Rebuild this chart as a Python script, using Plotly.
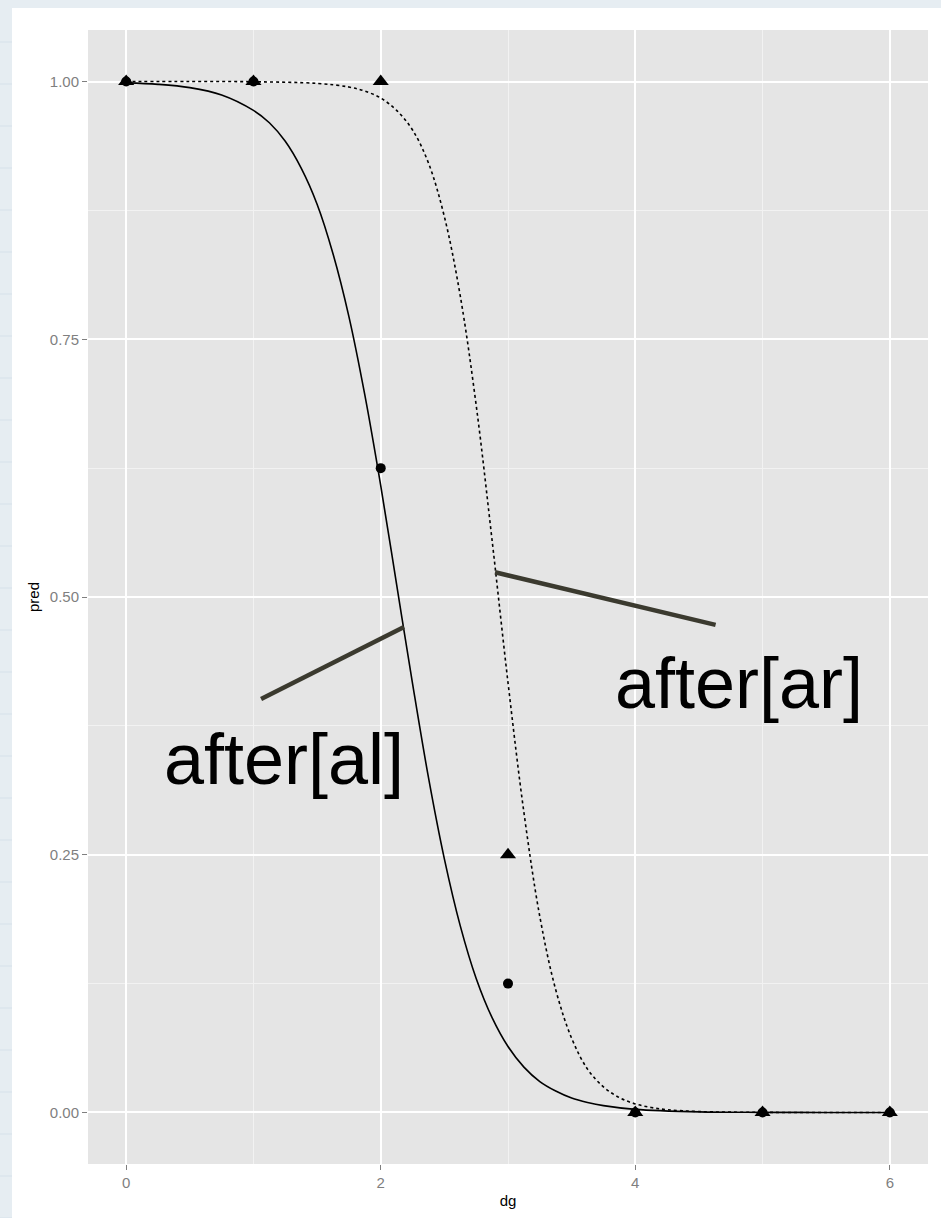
import plotly.graph_objects as go

# observed points
dg_pts = [0, 1, 2, 3, 4, 5, 6]
pred_al = [1.0, 1.0, 0.625, 0.125, 0.0, 0.0, 0.0]
pred_ar = [1.0, 1.0, 1.0, 0.25, 0.0, 0.0, 0.0]

# fitted curves
curve_al_x = [0, 0.25, 0.5, 0.75, 1.0, 1.125, 1.25, 1.375, 1.5, 1.625, 1.75, 1.875, 2.0, 2.125,
              2.25, 2.375, 2.5, 2.625, 2.75, 2.875, 3.0, 3.125, 3.25, 3.375, 3.5, 3.625, 3.75, 4.0, 4.5, 5.0, 5.5, 6.0]
curve_al_y = [0.9987, 0.9973, 0.9941, 0.987, 0.972, 0.960, 0.942, 0.916, 0.881, 0.833, 0.772, 0.696, 0.608, 0.512,
              0.416, 0.325, 0.246, 0.181, 0.130, 0.092, 0.064, 0.044, 0.030, 0.0208, 0.014, 0.0097, 0.0066, 0.003,
              0.0006, 0.0001, 0.00002, 0.0]
curve_ar_x = [0, 0.5, 1.0, 1.5, 1.75, 1.875, 2.0, 2.125, 2.25, 2.375, 2.5, 2.625, 2.75, 2.875, 3.0, 3.125,
              3.25, 3.375, 3.5, 3.625, 3.75, 3.875, 4.0, 4.125, 4.25, 4.5, 5.0, 5.5, 6.0]
curve_ar_y = [1.0, 1.0, 0.9998, 0.9982, 0.9947, 0.9907, 0.984, 0.972, 0.953, 0.921, 0.869, 0.792, 0.686, 0.555, 0.417, 0.291,
              0.190, 0.119, 0.072, 0.042, 0.0248, 0.0144, 0.0083, 0.0048, 0.0027, 0.0009, 0.0001, 0.00001, 0.0]

# label pointers
label_texts = ["after[al]", "after[ar]"]
label_pos_x = [1.237, 4.815]
label_pos_y = [0.343, 0.417]
pointer_x0 = [1.06, 2.898]
pointer_y0 = [0.401, 0.524]
pointer_x1 = [2.183, 4.631]
pointer_y1 = [0.471, 0.473]

fig = go.Figure()
fig.add_trace(go.Scatter(x=curve_al_x, y=curve_al_y, mode="lines",
                         line=dict(color="black", width=1.6, shape="spline", smoothing=1.0),
                         showlegend=False, hoverinfo="skip"))
fig.add_trace(go.Scatter(x=curve_ar_x, y=curve_ar_y, mode="lines",
                         line=dict(color="black", width=1.6, dash="3px,3px", shape="spline", smoothing=1.0),
                         showlegend=False, hoverinfo="skip"))
fig.add_trace(go.Scatter(x=dg_pts, y=pred_al, mode="markers",
                         marker=dict(symbol="circle", size=10, color="black"),
                         showlegend=False))
fig.add_trace(go.Scatter(x=dg_pts, y=pred_ar, mode="markers",
                         marker=dict(symbol="triangle-up", size=14, color="black"),
                         showlegend=False))

for i in range(2):
    fig.add_shape(type="line", xref="x", yref="y",
                  x0=pointer_x0[i], y0=pointer_y0[i], x1=pointer_x1[i], y1=pointer_y1[i],
                  line=dict(color="#3b3a2f", width=4.5))
    fig.add_annotation(x=label_pos_x[i], y=label_pos_y[i], xref="x", yref="y",
                       text=label_texts[i], showarrow=False,
                       xanchor="center", yanchor="middle",
                       font=dict(family="Liberation Sans, Arial", size=72, color="black"))

# light graph-paper margin strips on the left and top
bg_blue = "#e6edf2"
fig.add_shape(type="rect", xref="paper", yref="paper", layer="below",
              x0=-0.2, x1=(12 - 88) / 840, y0=-0.1, y1=1.1,
              fillcolor=bg_blue, line=dict(width=0))
fig.add_shape(type="rect", xref="paper", yref="paper", layer="below",
              x0=-0.2, x1=1.1, y0=(1164 - 8) / 1134, y1=1.1,
              fillcolor=bg_blue, line=dict(width=0))
for k in range(1, 30):
    yy = (1164 - k * 42) / 1134
    fig.add_shape(type="line", xref="paper", yref="paper", layer="below",
                  x0=-0.2, x1=(12 - 88) / 840, y0=yy, y1=yy,
                  line=dict(color="#d6e1ea", width=1))

axis_common = dict(
    showline=False, zeroline=False,
    ticks="outside", ticklen=5, tickwidth=1, tickcolor="#7f7f7f",
    tickfont=dict(family="Liberation Sans, Arial", size=15, color="#7f7f7f"),
    gridcolor="white", gridwidth=1.5,
    title_font=dict(family="Liberation Sans, Arial", size=15, color="black"),
)

fig.update_xaxes(range=[-0.3, 6.3], tickvals=[0, 2, 4, 6], ticktext=["0", "2", "4", "6"],
                 minor=dict(tickvals=[1, 3, 5], showgrid=True, gridcolor="#f2f2f2", gridwidth=1, ticks=""),
                 title_text="dg", title_standoff=5, **axis_common)
fig.update_yaxes(range=[-0.05, 1.05], tickvals=[0, 0.25, 0.5, 0.75, 1.0],
                 ticktext=["0.00", "0.25", "0.50", "0.75", "1.00"],
                 minor=dict(tickvals=[0.125, 0.375, 0.625, 0.875], showgrid=True, gridcolor="#f2f2f2", gridwidth=1, ticks=""),
                 title_text="pred", title_standoff=6, **axis_common)

fig.update_layout(
    width=941, height=1218,
    margin=dict(l=88, r=13, t=30, b=54),
    paper_bgcolor="white",
    plot_bgcolor="#e5e5e5",
    showlegend=False,
)

fig.write_html("out.html")
